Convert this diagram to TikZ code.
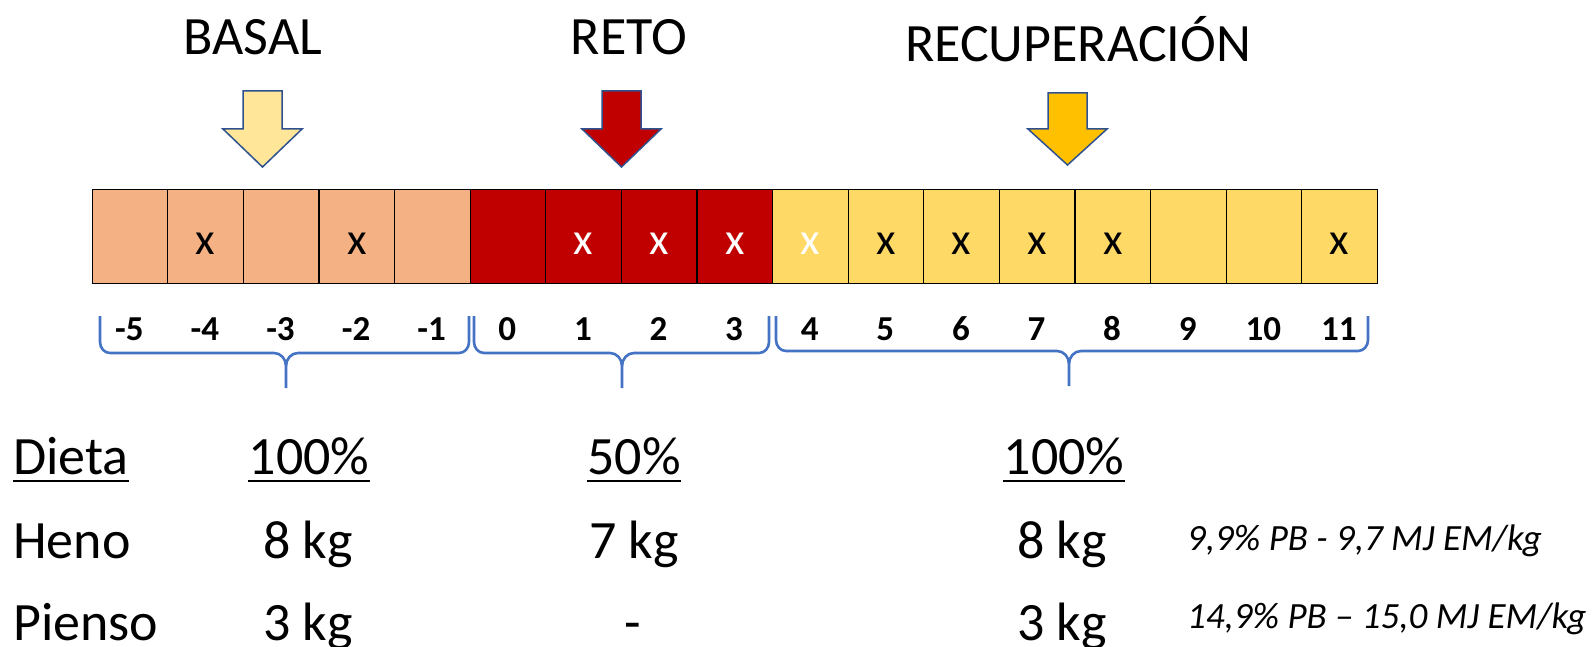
\documentclass[tikz,border=0pt]{standalone}
\usepackage{fontspec}
\setmainfont{Carlito}
\definecolor{cbasal}{HTML}{F4B183}
\definecolor{creto}{HTML}{C00000}
\definecolor{crec}{HTML}{FFD966}
\definecolor{arrbasal}{HTML}{FFE699}
\definecolor{arrrec}{HTML}{FFC000}
\definecolor{arredge}{HTML}{2F528F}
\definecolor{bracecol}{HTML}{4472C4}
\newcommand{\ttlfont}{\fontsize{54}{60}\selectfont}
\newcommand{\tabfont}{\fontsize{54}{60}\selectfont}
\newcommand{\numfont}{\fontsize{35}{40}\selectfont\bfseries}
\newcommand{\xfont}{\fontsize{45}{50}\selectfont}
\newcommand{\notefont}{\fontsize{37}{42}\selectfont\itshape}
\begin{document}
\begin{tikzpicture}[x=1pt,y=-1pt,
  cellbox/.style={draw=black, line width=1.3pt, minimum width=75.6pt, minimum height=93.5pt, inner sep=0pt, anchor=north west},
  numlbl/.style={inner sep=0pt, anchor=base, font=\numfont},
  xmark/.style={inner sep=0pt, anchor=base, font=\xfont},
  ttl/.style={inner sep=0pt, anchor=base, font=\ttlfont},
  tab/.style={inner sep=0pt, anchor=base, font=\tabfont},
  tabl/.style={inner sep=0pt, anchor=base west, font=\tabfont},
  note/.style={inner sep=0pt, anchor=base west, font=\notefont},
  arrowline/.style={draw=arredge, line width=1.5pt, line join=miter},
  bracestyle/.style={draw=bracecol, line width=2.6pt},
  uline/.style={line width=2.6pt}]
\useasboundingbox (0,0) rectangle (1594,647);
% titles
\node[ttl] (tbasal) at (253,55) {BASAL};
\node[ttl] (treto) at (629,55) {RETO};
\node[ttl] (trec) at (1078,62) {RECUPERACIÓN};
% arrows
\draw[arrowline, fill=arrbasal] (243,91) -- (282,91) -- (282,129) -- (302,129) -- (262.5,167) -- (223,129) -- (243,129) -- cycle;
\draw[arrowline, fill=creto] (602,91) -- (641,91) -- (641,129) -- (661,129) -- (621.5,167) -- (582,129) -- (602,129) -- cycle;
\draw[arrowline, fill=arrrec] (1048,93) -- (1087,93) -- (1087,129) -- (1107,129) -- (1067.5,165) -- (1028,129) -- (1048,129) -- cycle;
% cells
\foreach \i in {0,...,4} \node[cellbox, fill=cbasal] (c\i) at ({91.5+\i*75.6},189) {};
\foreach \i in {5,...,8} \node[cellbox, fill=creto] (c\i) at ({91.5+\i*75.6},189) {};
\foreach \i in {9,...,16} \node[cellbox, fill=crec] (c\i) at ({91.5+\i*75.6},189) {};
% x marks
\foreach \i in {1,3,10,11,12,13,16} \node[xmark] (x\i) at ([yshift=-18pt]c\i.center) {x};
\foreach \i in {6,7,8,9} \node[xmark, text=white] (x\i) at ([yshift=-18pt]c\i.center) {x};
% day numbers
\foreach \i [evaluate=\i as \n using int(\i-5)] in {0,...,16}
  \node[numlbl] (n\i) at ({129.3+\i*75.6},340) {\n};
% braces
\draw[bracestyle] (100,316) -- (100,342) to[out=-90,in=180] (110,353) -- (274,353) to[out=0,in=90] (286,366) -- (286,388);
\draw[bracestyle] (469,316) -- (469,342) to[out=-90,in=0] (459,353) -- (298,353) to[out=180,in=90] (286,366);
\draw[bracestyle] (474,316) -- (474,342) to[out=-90,in=180] (484,353) -- (610,353) to[out=0,in=90] (622,366) -- (622,388);
\draw[bracestyle] (769,316) -- (769,342) to[out=-90,in=0] (759,353) -- (634,353) to[out=180,in=90] (622,366);
\draw[bracestyle] (776,316) -- (776,340) to[out=-90,in=180] (786,351) -- (1057,351) to[out=0,in=90] (1069,364) -- (1069,386);
\draw[bracestyle] (1368,316) -- (1368,340) to[out=-90,in=0] (1358,351) -- (1081,351) to[out=180,in=90] (1069,364);
% table
\node[tabl] (dieta) at (13,474) {Dieta};
\node[tab] (pb) at (309,474) {100\%};
\node[tab] (pr) at (634,474) {50\%};
\node[tab] (pc) at (1064,474) {100\%};
\foreach \n in {dieta,pb,pr,pc}
  \draw[uline] ([yshift=-7pt]\n.base west) -- ([yshift=-7pt]\n.base east);
\node[tabl] (heno) at (13,558) {Heno};
\node[tab] (hb) at (308,558) {8 kg};
\node[tab] (hr) at (634,558) {7 kg};
\node[tab] (hc) at (1062,558) {8 kg};
\node[note] (hnote) at (1187,550) {9,9\% PB - 9,7 MJ EM/kg};
\node[tabl] (pienso) at (13,640) {Pienso};
\node[tab] (sb) at (308,640) {3 kg};
\node[tab] (sr) at (633,640) {-};
\node[tab] (sc) at (1062,640) {3 kg};
\node[note] (snote) at (1187,628) {14,9\% PB – 15,0 MJ EM/kg};
\end{tikzpicture}
\end{document}
